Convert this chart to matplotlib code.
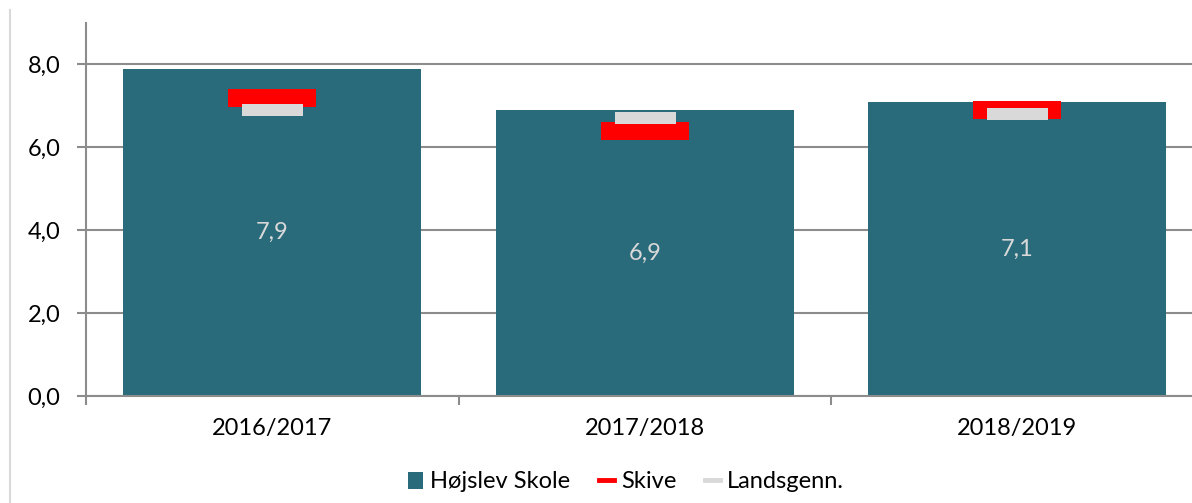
import matplotlib.pyplot as plt
from matplotlib.lines import Line2D
from matplotlib.patches import Patch
import numpy as np

# === DATA ===
years = ["2016/2017", "2017/2018", "2018/2019"]
school = [7.9, 6.9, 7.1]
skive = [7.2, 6.4, 6.9]
national = [6.9, 6.7, 6.8]

BAR_COLOR = "#296b7b"
RED = "#ff0000"
GRAY = "#d9d9d9"
AXIS_COLOR = "#8c8c8c"

plt.rcParams["font.family"] = ["Lato", "DejaVu Sans"]

fig = plt.figure(figsize=(11.92, 5.03), dpi=100)
ax = fig.add_axes([86 / 1192, 1 - 396 / 503, (1203.5 - 86) / 1192, (396 - 23) / 503])

x = np.arange(len(years))
ax.bar(x, school, width=0.8, color=BAR_COLOR, zorder=2)

# markers for Skive and national average
ax.plot(x, skive, linestyle="none", marker="_", markersize=88 * 0.72,
        markeredgewidth=18 * 0.72, color=RED, zorder=3)
ax.plot(x, national, linestyle="none", marker="_", markersize=61 * 0.72,
        markeredgewidth=12 * 0.72, color=GRAY, zorder=4)

# value labels in middle of bars
for xi, v in zip(x, school):
    ax.text(xi, v / 2, f"{v:.1f}".replace(".", ","), ha="center", va="center",
            color=GRAY, fontsize=17)

ax.set_xlim(-0.5, len(years) - 0.5)
ax.set_ylim(0, 9)
ax.set_yticks([0, 2, 4, 6, 8])
ax.set_yticklabels([f"{t:.1f}".replace(".", ",") for t in [0, 2, 4, 6, 8]])
ax.yaxis.grid(True, color=AXIS_COLOR, linewidth=1.5, zorder=0)
ax.set_axisbelow(True)

ax.set_xticks(x)
ax.set_xticklabels(years)
ax.set_xticks(np.arange(len(years) + 1) - 0.5, minor=True)
ax.tick_params(axis="x", which="major", length=0, pad=16, labelsize=17)
ax.tick_params(axis="x", which="minor", length=6.5, width=1.5, color=AXIS_COLOR)
ax.tick_params(axis="y", length=6.5, width=1.5, color=AXIS_COLOR, pad=12, labelsize=17)

for s in ["top", "right"]:
    ax.spines[s].set_visible(False)
for s in ["left", "bottom"]:
    ax.spines[s].set_color(AXIS_COLOR)
    ax.spines[s].set_linewidth(1.5)

handles = [
    Patch(facecolor=BAR_COLOR, label="Højslev Skole"),
    Line2D([0], [0], color=RED, linewidth=3.5, label="Skive"),
    Line2D([0], [0], color=GRAY, linewidth=3.5, label="Landsgenn."),
]
fig.legend(handles=handles, loc="center", bbox_to_anchor=(626 / 1192, 1 - 482 / 503),
           ncol=3, frameon=False, fontsize=17, handlelength=0.65, handleheight=0.7,
           handletextpad=0.3, columnspacing=1.2, borderpad=0)

# chart border on the left
fig.add_artist(Line2D([10 / 1192, 10 / 1192], [0, 1 - 10 / 503], color=GRAY, linewidth=1.5))

fig.savefig("out.png", dpi=100)
